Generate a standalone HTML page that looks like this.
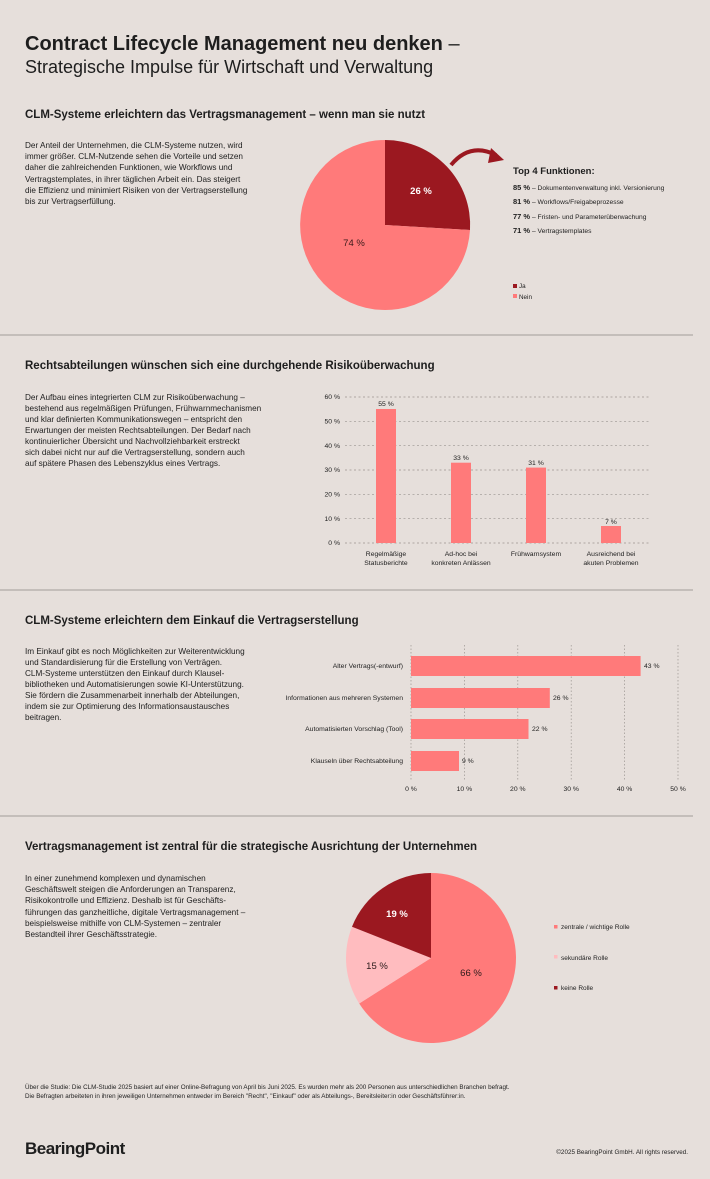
<!DOCTYPE html>
<html><head><meta charset="utf-8"><style>
html,body{margin:0;padding:0;background:#e6dfdb;}
svg{display:block;font-family:"Liberation Sans",sans-serif;}
</style></head><body>
<svg width="710" height="1179" viewBox="0 0 710 1179" xmlns="http://www.w3.org/2000/svg">
<rect width="710" height="1179" fill="#e6dfdb"/>
<g fill="#1e1e1e">
<text x="25" y="50" font-size="20" font-weight="bold">Contract Lifecycle Management neu denken <tspan font-weight="normal">–</tspan></text>
<text x="25" y="73" font-size="18">Strategische Impulse für Wirtschaft und Verwaltung</text>

<text x="25" y="118" font-size="11.5" font-weight="bold">CLM-Systeme erleichtern das Vertragsmanagement – wenn man sie nutzt</text>
<g font-size="8.2">
<text x="25" y="148">Der Anteil der Unternehmen, die CLM-Systeme nutzen, wird</text>
<text x="25" y="159">immer größer. CLM-Nutzende sehen die Vorteile und setzen</text>
<text x="25" y="170">daher die zahlreichenden Funktionen, wie Workflows und</text>
<text x="25" y="182">Vertragstemplates, in ihrer täglichen Arbeit ein. Das steigert</text>
<text x="25" y="193">die Effizienz und minimiert Risiken von der Vertragserstellung</text>
<text x="25" y="204">bis zur Vertragserfüllung.</text>
</g>
</g>
<!-- Pie 1 -->
<path d="M385,225 L385,140 A85,85 0 0,1 470,230 Z" fill="#9b1820"/>
<path d="M385,225 L470,230 A85,85 0 1,1 385,140 Z" fill="#ff7a7a"/>
<text x="421" y="194" font-size="9.5" font-weight="bold" fill="#fff" text-anchor="middle">26 %</text>
<text x="354" y="246" font-size="9.5" fill="#3a1a1a" text-anchor="middle">74 %</text>
<path d="M451,165 Q470,142 496,155" fill="none" stroke="#9b1820" stroke-width="4"/>
<polygon points="491,148 504,160 488,163" fill="#9b1820"/>
<g fill="#1e1e1e">
<text x="513" y="174" font-size="9.5" font-weight="bold">Top 4 Funktionen:</text>
<text x="513" y="190" font-size="6.7"><tspan font-weight="bold" font-size="7.5">85 %</tspan> – Dokumentenverwaltung inkl. Versionierung</text>
<text x="513" y="204" font-size="6.7"><tspan font-weight="bold" font-size="7.5">81 %</tspan> – Workflows/Freigabeprozesse</text>
<text x="513" y="219" font-size="6.7"><tspan font-weight="bold" font-size="7.5">77 %</tspan> – Fristen- und Parameterüberwachung</text>
<text x="513" y="233" font-size="6.7"><tspan font-weight="bold" font-size="7.5">71 %</tspan> – Vertragstemplates</text>
<rect x="513" y="284" width="4" height="4" fill="#9b1820"/><text x="519" y="288" font-size="6.3">Ja</text>
<rect x="513" y="294" width="4" height="4" fill="#ff7a7a"/><text x="519" y="299" font-size="6.3">Nein</text>
</g>
<line x1="0" y1="335" x2="693" y2="335" stroke="#8c8682" stroke-width="0.8"/>

<!-- Section 2 -->
<g fill="#1e1e1e">
<text x="25" y="369" font-size="11.5" font-weight="bold">Rechtsabteilungen wünschen sich eine durchgehende Risikoüberwachung</text>
<g font-size="8.2">
<text x="25" y="400">Der Aufbau eines integrierten CLM zur Risikoüberwachung –</text>
<text x="25" y="411">bestehend aus regelmäßigen Prüfungen, Frühwarnmechanismen</text>
<text x="25" y="422">und klar definierten Kommunikationswegen – entspricht den</text>
<text x="25" y="433">Erwartungen der meisten Rechtsabteilungen. Der Bedarf nach</text>
<text x="25" y="444">kontinuierlicher Übersicht und Nachvollziehbarkeit erstreckt</text>
<text x="25" y="455">sich dabei nicht nur auf die Vertragserstellung, sondern auch</text>
<text x="25" y="466">auf spätere Phasen des Lebenszyklus eines Vertrags.</text>
</g>
</g>
<g stroke="#9a9490" stroke-width="0.7" stroke-dasharray="2,2.5">
<line x1="345" y1="397" x2="650" y2="397"/><line x1="345" y1="421.3" x2="650" y2="421.3"/>
<line x1="345" y1="445.7" x2="650" y2="445.7"/><line x1="345" y1="470" x2="650" y2="470"/>
<line x1="345" y1="494.3" x2="650" y2="494.3"/><line x1="345" y1="518.7" x2="650" y2="518.7"/>
<line x1="345" y1="543" x2="650" y2="543"/>
</g>
<g font-size="6.8" fill="#1e1e1e" text-anchor="end">
<text x="340" y="399">60 %</text><text x="340" y="423.5">50 %</text><text x="340" y="448">40 %</text>
<text x="340" y="472">30 %</text><text x="340" y="496.5">20 %</text><text x="340" y="521">10 %</text><text x="340" y="545">0 %</text>
</g>
<g fill="#ff7a7a">
<rect x="376" y="409" width="20" height="134"/>
<rect x="451" y="462.7" width="20" height="80.3"/>
<rect x="526" y="467.6" width="20" height="75.4"/>
<rect x="601" y="526" width="20" height="17"/>
</g>
<g font-size="6.8" fill="#1e1e1e" text-anchor="middle">
<text x="386" y="406">55 %</text><text x="461" y="460">33 %</text><text x="536" y="465">31 %</text><text x="611" y="524">7 %</text>
<text x="386" y="556">Regelmäßige</text><text x="386" y="565">Statusberichte</text>
<text x="461" y="556">Ad-hoc bei</text><text x="461" y="565">konkreten Anlässen</text>
<text x="536" y="556">Frühwarnsystem</text>
<text x="611" y="556">Ausreichend bei</text><text x="611" y="565">akuten Problemen</text>
</g>
<line x1="0" y1="590" x2="693" y2="590" stroke="#8c8682" stroke-width="0.8"/>

<!-- Section 3 -->
<g fill="#1e1e1e">
<text x="25" y="624" font-size="11.5" font-weight="bold">CLM-Systeme erleichtern dem Einkauf die Vertragserstellung</text>
<g font-size="8.2">
<text x="25" y="654">Im Einkauf gibt es noch Möglichkeiten zur Weiterentwicklung</text>
<text x="25" y="665">und Standardisierung für die Erstellung von Verträgen.</text>
<text x="25" y="676">CLM-Systeme unterstützen den Einkauf durch Klausel-</text>
<text x="25" y="687">bibliotheken und Automatisierungen sowie KI-Unterstützung.</text>
<text x="25" y="698">Sie fördern die Zusammenarbeit innerhalb der Abteilungen,</text>
<text x="25" y="709">indem sie zur Optimierung des Informationsaustausches</text>
<text x="25" y="720">beitragen.</text>
</g>
</g>
<g stroke="#9a9490" stroke-width="0.7" stroke-dasharray="1.5,2">
<line x1="411" y1="645" x2="411" y2="780"/><line x1="464.4" y1="645" x2="464.4" y2="780"/>
<line x1="517.8" y1="645" x2="517.8" y2="780"/><line x1="571.2" y1="645" x2="571.2" y2="780"/>
<line x1="624.6" y1="645" x2="624.6" y2="780"/><line x1="678" y1="645" x2="678" y2="780"/>
</g>
<g fill="#ff7a7a">
<rect x="411" y="656" width="229.6" height="20"/>
<rect x="411" y="688" width="138.8" height="20"/>
<rect x="411" y="719" width="117.5" height="20"/>
<rect x="411" y="751" width="48" height="20"/>
</g>
<g font-size="6.8" fill="#1e1e1e">
<text x="644" y="668">43 %</text><text x="553" y="700">26 %</text><text x="532" y="731">22 %</text><text x="462" y="763">9 %</text>
<g text-anchor="end">
<text x="403" y="668">Alter Vertrags(-entwurf)</text>
<text x="403" y="700">Informationen aus mehreren Systemen</text>
<text x="403" y="731">Automatisierten Vorschlag (Tool)</text>
<text x="403" y="763">Klauseln über Rechtsabteilung</text>
</g>
<g text-anchor="middle">
<text x="411" y="791">0 %</text><text x="464.4" y="791">10 %</text><text x="517.8" y="791">20 %</text>
<text x="571.2" y="791">30 %</text><text x="624.6" y="791">40 %</text><text x="678" y="791">50 %</text>
</g>
</g>
<line x1="0" y1="816" x2="693" y2="816" stroke="#8c8682" stroke-width="0.8"/>

<!-- Section 4 -->
<g fill="#1e1e1e">
<text x="25" y="850" font-size="11.5" font-weight="bold">Vertragsmanagement ist zentral für die strategische Ausrichtung der Unternehmen</text>
<g font-size="8.2">
<text x="25" y="881">In einer zunehmend komplexen und dynamischen</text>
<text x="25" y="892">Geschäftswelt steigen die Anforderungen an Transparenz,</text>
<text x="25" y="903">Risikokontrolle und Effizienz. Deshalb ist für Geschäfts-</text>
<text x="25" y="915">führungen das ganzheitliche, digitale Vertragsmanagement –</text>
<text x="25" y="926">beispielsweise mithilfe von CLM-Systemen – zentraler</text>
<text x="25" y="937">Bestandteil ihrer Geschäftsstrategie.</text>
</g>
</g>
<path d="M431,958 L431,873 A85,85 0 1,1 359.2,1003.5 Z" fill="#ff7a7a"/>
<path d="M431,958 L359.2,1003.5 A85,85 0 0,1 352,926.7 Z" fill="#ffbcbf"/>
<path d="M431,958 L352,926.7 A85,85 0 0,1 431,873 Z" fill="#9b1820"/>
<text x="397" y="917" font-size="9.5" font-weight="bold" fill="#fff" text-anchor="middle">19 %</text>
<text x="377" y="969" font-size="9.5" fill="#2a1a1a" text-anchor="middle">15 %</text>
<text x="471" y="976" font-size="9.5" fill="#2a1a1a" text-anchor="middle">66 %</text>
<g font-size="6.5" fill="#1e1e1e">
<rect x="554" y="925" width="3.5" height="3.5" fill="#ff7a7a"/><text x="561" y="929">zentrale / wichtige Rolle</text>
<rect x="554" y="955" width="3.5" height="3.5" fill="#ffbcbf"/><text x="561" y="960">sekundäre Rolle</text>
<rect x="554" y="986" width="3.5" height="3.5" fill="#9b1820"/><text x="561" y="990">keine Rolle</text>
</g>
<g font-size="6.3" fill="#1e1e1e">
<text x="25" y="1089">Über die Studie: Die CLM-Studie 2025 basiert auf einer Online-Befragung von April bis Juni 2025. Es wurden mehr als 200 Personen aus unterschiedlichen Branchen befragt.</text>
<text x="25" y="1098">Die Befragten arbeiteten in ihren jeweiligen Unternehmen entweder im Bereich "Recht", "Einkauf" oder als Abteilungs-, Bereitsleiter:in oder Geschäftsführer:in.</text>
<text x="25" y="1154" font-size="17" font-weight="bold" letter-spacing="-0.5">BearingPoint</text>
<text x="688" y="1154" font-size="6.3" text-anchor="end">©2025 BearingPoint GmbH. All rights reserved.</text>
</g>
</svg>
</body></html>
